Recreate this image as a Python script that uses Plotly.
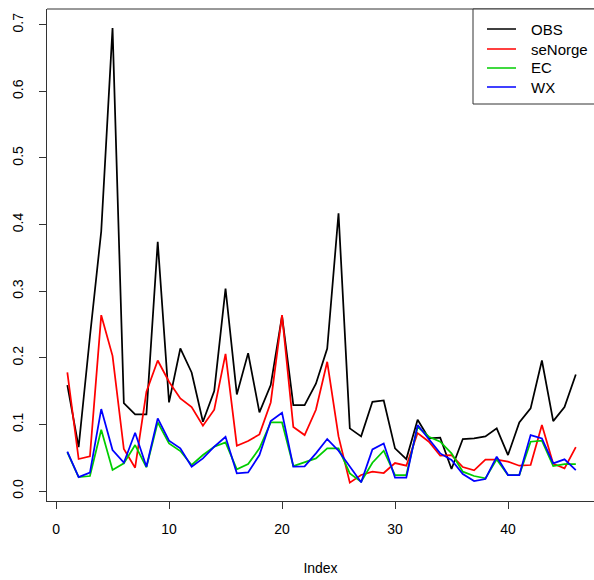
import plotly.graph_objects as go

index = list(range(1, 47))

obs = [0.159, 0.066, 0.232, 0.390, 0.695, 0.132, 0.115, 0.115, 0.374, 0.133,
       0.214, 0.178, 0.104, 0.150, 0.304, 0.145, 0.207, 0.118, 0.159, 0.263,
       0.129, 0.129, 0.161, 0.214, 0.417, 0.094, 0.082, 0.134, 0.136, 0.064,
       0.048, 0.107, 0.079, 0.080, 0.033, 0.078, 0.079, 0.082, 0.094, 0.054,
       0.103, 0.124, 0.196, 0.105, 0.126, 0.175]

senorge = [0.178, 0.048, 0.052, 0.264, 0.203, 0.063, 0.035, 0.149, 0.196, 0.164,
           0.139, 0.126, 0.098, 0.122, 0.206, 0.068, 0.075, 0.085, 0.133, 0.264,
           0.096, 0.084, 0.122, 0.194, 0.082, 0.0125, 0.024, 0.029, 0.027, 0.042,
           0.038, 0.087, 0.074, 0.053, 0.054, 0.036, 0.031, 0.047, 0.047, 0.044,
           0.038, 0.039, 0.099, 0.041, 0.034, 0.066]

ec = [0.058, 0.021, 0.0225, 0.092, 0.0315, 0.0415, 0.069, 0.0355, 0.103, 0.0715,
      0.060, 0.039, 0.054, 0.0665, 0.073, 0.0325, 0.0405, 0.064, 0.103, 0.103,
      0.0375, 0.043, 0.049, 0.064, 0.064, 0.0265, 0.014, 0.0425, 0.0605, 0.024,
      0.024, 0.0965, 0.0815, 0.074, 0.0565, 0.029, 0.0225, 0.019, 0.0475, 0.024,
      0.024, 0.074, 0.0755, 0.0375, 0.0405, 0.0405]

wx = [0.059, 0.021, 0.0275, 0.123, 0.0615, 0.0425, 0.0875, 0.0365, 0.109, 0.0755,
      0.064, 0.0365, 0.049, 0.0665, 0.0815, 0.0265, 0.028, 0.054, 0.105, 0.1175,
      0.0365, 0.037, 0.0565, 0.078, 0.0605, 0.0365, 0.013, 0.0625, 0.0715, 0.020,
      0.020, 0.099, 0.0775, 0.0565, 0.0465, 0.0255, 0.015, 0.018, 0.0515, 0.024,
      0.024, 0.084, 0.079, 0.0415, 0.0475, 0.0315]

series_names = ["OBS", "seNorge", "EC", "WX"]
series_colors = ["#000000", "#FF0000", "#00CD00", "#0000FF"]

x_ticks = [0, 10, 20, 30, 40]
y_ticks = [0.0, 0.1, 0.2, 0.3, 0.4, 0.5, 0.6, 0.7]
y_tick_labels = ["0.0", "0.1", "0.2", "0.3", "0.4", "0.5", "0.6", "0.7"]

FONT = "Liberation Sans, Arial, sans-serif"

W, H = 594, 580
ML, MR, MT, MB = 47, 0, 9, 79
PW, PH = W - ML - MR, H - MT - MB


def px_to_paper_x(px):
    return (px - ML) / PW


def px_to_paper_y(py):
    return (H - MB - py) / PH


fig = go.Figure()
for name, vals, col in zip(series_names, [obs, senorge, ec, wx], series_colors):
    fig.add_trace(go.Scatter(x=index, y=vals, mode="lines", name=name,
                             line=dict(color=col, width=1.75),
                             showlegend=False))

fig.update_layout(
    width=W, height=H,
    margin=dict(l=ML, r=MR, t=MT, b=MB),
    plot_bgcolor="white", paper_bgcolor="white",
    font=dict(family=FONT, size=14, color="#000000"),
    showlegend=False,
    xaxis=dict(range=[-0.8, 47.61], tickmode="array", tickvals=x_ticks,
               ticks="outside", ticklen=7, tickcolor="#333333", tickwidth=1,
               showline=True, linecolor="#333333", linewidth=1,
               showgrid=False, zeroline=False, ticklabelstandoff=8,
               title=dict(text="Index", standoff=27,
                          font=dict(family=FONT, size=14))),
    yaxis=dict(range=[-0.015, 0.7237], tickmode="array", tickvals=y_ticks,
               ticktext=y_tick_labels, tickangle=-90,
               ticks="outside", ticklen=7, tickcolor="#333333", tickwidth=1,
               showline=True, linecolor="#333333", linewidth=1,
               showgrid=False, zeroline=False, ticklabelstandoff=10),
)

# top border of the plot box
fig.add_shape(type="line", xref="paper", yref="paper", x0=0, x1=1, y0=1, y1=1,
              line=dict(color="#333333", width=1))

# legend box (top-right, running past the right edge like the original)
fig.add_shape(type="rect", xref="paper", yref="paper",
              x0=px_to_paper_x(473), x1=1.03,
              y0=px_to_paper_y(104), y1=1,
              line=dict(color="#333333", width=1), fillcolor="white",
              layer="above")

row_y = [29, 49, 68, 87]
for name, col, ry in zip(series_names, series_colors, row_y):
    fig.add_shape(type="line", xref="paper", yref="paper",
                  x0=px_to_paper_x(487), x1=px_to_paper_x(516),
                  y0=px_to_paper_y(ry), y1=px_to_paper_y(ry),
                  line=dict(color=col, width=1.5), layer="above")
    fig.add_annotation(xref="paper", yref="paper",
                       x=px_to_paper_x(529), y=px_to_paper_y(ry),
                       xanchor="left", yanchor="middle", showarrow=False,
                       text=name, font=dict(family=FONT, size=15, color="#000000"))

fig.write_html("out.html")
